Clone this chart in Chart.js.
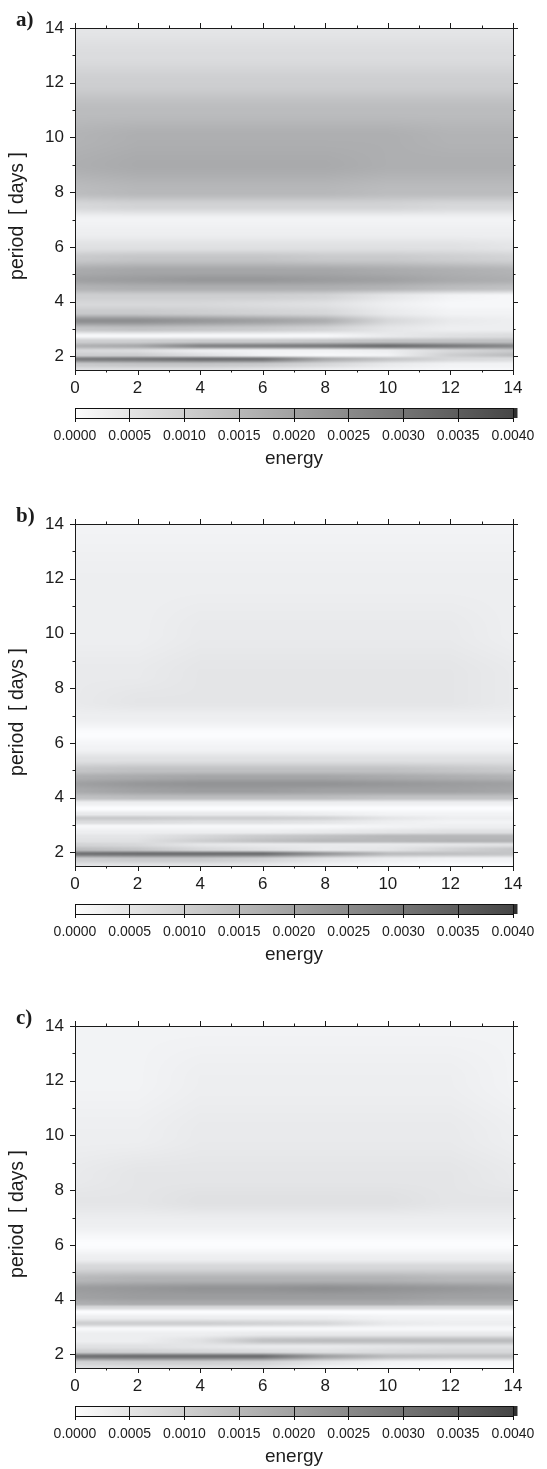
<!DOCTYPE html>
<html><head><meta charset="utf-8">
<script src="https://cdn.jsdelivr.net/npm/chart.js@4.4.1/dist/chart.umd.min.js"></script>
<style>
html,body{margin:0;padding:0;background:#fff;width:547px;height:1469px;overflow:hidden;position:relative}
canvas{position:absolute;left:0}
</style></head><body>
<canvas id="hmA" width="547" height="410" style="top:0px"></canvas>
<canvas id="cbA" width="547" height="75" style="top:400px"></canvas>
<canvas id="hmB" width="547" height="410" style="top:496px"></canvas>
<canvas id="cbB" width="547" height="75" style="top:896px"></canvas>
<canvas id="hmC" width="547" height="410" style="top:998px"></canvas>
<canvas id="cbC" width="547" height="75" style="top:1398px"></canvas>
<script>
// ---------------- data (energy values in units of 1e-4) ----------------
const ENERGY_UNIT = 1e-4;
const xColumns = [0, 2, 4, 6, 8, 10, 12, 14];

const periodsA = [1.5,1.7,1.9,2.05,2.2,2.38,2.55,2.75,3.0,3.3,3.6,3.9,4.2,4.5,4.8,5.1,5.6,6.0,6.5,7.0,7.5,8,9,10,11,12,13,14];
const energyA = [
  [6,6,6,5,3,2,1,1],
  [11,12,12,11,8,4,2,2],
  [28,29,31,30,18,12,8,7],
  [10,10,6,2,1,2,10,14],
  [8,7,3,2,2,3,8,11],
  [16,18,26,27,28,31,28,25],
  [10,10,11,11,12,13,13,13],
  [1,1,1,1,1,4,6,7],
  [12,13,12,11,9,5,3,3],
  [24,24,22,20,17,8,4,3],
  [11,11,10,9,8,4,2,2],
  [8,8,8,7,6,3,1,1],
  [10,10,10,10,9,5,2,1],
  [16,17,17,17,17,16,14,13],
  [20,21,22,22,21,20,18,17],
  [18,19,19,19,19,18,17,16],
  [11,12,12,12,11,11,10,9],
  [6,6,6,6,6,6,6,5],
  [3,3,3,3,3,3,3,3],
  [2,2,2,2,2,2,2,2],
  [8,9,9,9,9,9,8,8],
  [14,15,15,15,15,14,14,14],
  [17,18,18,18,18,17,17,17],
  [16,17,17,17,17,17,16,16],
  [14,14,14,14,14,14,14,14],
  [10,10,10,10,10,10,10,10],
  [7,7,7,7,7,7,7,7],
  [5,5,5,5,5,5,5,5]
];

const periodsB = [1.5,1.75,1.95,2.1,2.28,2.42,2.58,2.75,2.95,3.1,3.25,3.4,3.6,3.8,4.0,4.25,4.5,4.75,5.0,5.4,5.8,6.3,6.9,7.5,8.5,10,12,14];
const energyB = [
  [5,5,5,4,2,1,0,0],
  [10,11,11,9,5,3,2,2],
  [30,31,31,31,22,14,13,12],
  [14,12,8,6,4,5,9,12],
  [9,8,5,4,4,4,5,6],
  [6,6,10,13,15,15,16,16],
  [5,5,8,11,13,15,15,15],
  [3,3,3,3,4,5,6,6],
  [1,1,1,1,1,2,3,3],
  [7,7,6,6,5,3,2,2],
  [11,11,10,10,9,5,3,3],
  [4,4,4,4,3,2,2,2],
  [0,0,0,0,0,0,0,0],
  [3,3,3,3,3,3,3,3],
  [13,14,14,14,14,13,13,13],
  [18,20,21,21,20,20,20,19],
  [20,22,23,23,23,22,21,20],
  [17,18,19,19,19,18,17,16],
  [12,13,13,13,13,13,12,11],
  [6,6,6,6,6,6,6,6],
  [2,2,2,2,2,2,2,2],
  [0,0,0,0,0,0,0,0],
  [3,3,3,3,3,3,3,3],
  [4,5,5,5,5,5,5,4],
  [4,4,5,5,5,5,5,4],
  [3,3,4,4,4,4,4,3],
  [3,3,3,3,3,3,3,3],
  [2,2,2,2,2,2,2,2]
];

const periodsC = [1.5,1.7,1.93,2.1,2.28,2.5,2.75,2.93,3.13,3.35,3.55,3.72,3.85,4.1,4.4,4.75,5.2,5.5,6.0,6.8,7.6,8.5,10,12,14];
const energyC = [
  [6,6,6,6,2,1,0,0],
  [9,10,10,9,5,2,1,1],
  [30,31,31,31,20,14,13,13],
  [10,9,8,7,6,7,8,8],
  [6,6,5,4,4,5,6,6],
  [3,3,6,13,14,14,14,14],
  [3,3,3,4,4,4,4,4],
  [1,1,1,1,1,1,1,1],
  [10,10,10,9,8,4,3,3],
  [3,3,3,3,3,2,2,2],
  [0,0,0,0,0,0,0,0],
  [8,8,8,8,8,8,8,8],
  [17,18,18,18,18,18,17,17],
  [20,21,21,21,21,21,20,20],
  [21,22,23,23,24,23,22,21],
  [15,16,16,16,16,16,15,15],
  [8,8,8,8,8,8,8,8],
  [3,3,3,3,3,3,3,3],
  [0,0,0,0,0,0,0,0],
  [3,3,3,3,3,3,3,3],
  [5,5,6,6,6,6,5,5],
  [4,5,5,5,5,5,5,4],
  [3,3,4,4,4,4,4,3],
  [2,2,3,3,3,3,3,2],
  [2,2,2,2,2,2,2,2]
];

const xTickLabels = [0,2,4,6,8,10,12,14];
const xMinorTicks = [1,3,5,7,9,11,13];
const yTickLabels = [2,4,6,8,10,12,14];
const yMinorTicks = [3,5,7,9,11,13];
const cbTickLabels = [0,0.0005,0.0010,0.0015,0.0020,0.0025,0.0030,0.0035,0.0040];
const panelLetters = ['a)','b)','c)'];
const yTitle = 'period  [ days ]';
const cbTitle = 'energy';

// ---------------- helpers ----------------
const TEXT = '#1c1c1c';
const FONT = "'Liberation Sans', Arial, sans-serif";
const E_MAX = 0.004;
function grayFor(e){ const t = Math.max(0, Math.min(1.12, e / E_MAX)); return 252 - 182 * t; }
function locate(arr, v){
  const n = arr.length;
  if (v <= arr[0]) return [0,0,0];
  if (v >= arr[n-1]) return [n-1,n-1,0];
  let i = 0; while (arr[i+1] < v) i++;
  return [i, i+1, (v - arr[i]) / (arr[i+1] - arr[i])];
}
const smooth = t => t * t * (3 - 2 * t);

const heatmapPlugin = {
  id: 'heatmap',
  beforeDatasetsDraw(chart, args, opts){
    const {ctx, chartArea: a, scales: {x, y}} = chart;
    const periods = opts.periods, rows = opts.rows;
    const L = Math.round(a.left), T = Math.round(a.top);
    const W = Math.round(a.right) - L, H = Math.round(a.bottom) - T;
    const off = document.createElement('canvas'); off.width = W; off.height = H;
    const octx = off.getContext('2d'); const img = octx.createImageData(W, H);
    const colLoc = [];
    for (let c = 0; c < W; c++) colLoc.push(locate(xColumns, x.getValueForPixel(L + c + 0.5)));
    for (let r = 0; r < H; r++){
      const [i0, i1, t0] = locate(periods, y.getValueForPixel(T + r + 0.5));
      const ty = smooth(t0);
      for (let c = 0; c < W; c++){
        const [j0, j1, tx] = colLoc[c];
        const v0 = rows[i0][j0] * (1 - tx) + rows[i0][j1] * tx;
        const v1 = rows[i1][j0] * (1 - tx) + rows[i1][j1] * tx;
        const e = (v0 * (1 - ty) + v1 * ty) * ENERGY_UNIT;
        const g = grayFor(e);
        const k = (r * W + c) * 4;
        img.data[k] = g - 1; img.data[k+1] = g; img.data[k+2] = g + 2; img.data[k+3] = 255;
      }
    }
    octx.putImageData(img, 0, 0);
    ctx.drawImage(off, L, T);
  }
};

const framePlugin = {
  id: 'frame',
  afterDraw(chart, args, opts){
    const {ctx, chartArea: a, scales: {x, y}} = chart;
    ctx.save();
    ctx.strokeStyle = '#1a1a1a'; ctx.lineWidth = 1;
    ctx.strokeRect(Math.round(a.left) + 0.5, Math.round(a.top) + 0.5, Math.round(a.right) - Math.round(a.left), Math.round(a.bottom) - Math.round(a.top));
    const major = 5, minor = 2.5;
    ctx.beginPath();
    const tickX = (v, len) => {
      const px = Math.round(x.getPixelForValue(v)) + 0.5;
      ctx.moveTo(px, a.bottom); ctx.lineTo(px, a.bottom + len);
      ctx.moveTo(px, a.top); ctx.lineTo(px, a.top - len);
    };
    const tickY = (v, len) => {
      const py = Math.round(y.getPixelForValue(v)) + 0.5;
      ctx.moveTo(a.left, py); ctx.lineTo(a.left - len, py);
      ctx.moveTo(a.right, py); ctx.lineTo(a.right + len, py);
    };
    xTickLabels.forEach(v => tickX(v, major));
    xMinorTicks.forEach(v => tickX(v, minor));
    yTickLabels.forEach(v => tickY(v, major));
    yMinorTicks.forEach(v => tickY(v, minor));
    ctx.stroke();
    // y axis title
    ctx.fillStyle = TEXT;
    ctx.translate(18, (a.top + a.bottom) / 2 + 17);
    ctx.rotate(-Math.PI / 2);
    ctx.font = '19.5px ' + FONT;
    ctx.textAlign = 'center'; ctx.textBaseline = 'middle';
    ctx.fillText(yTitle, 0, 0);
    ctx.setTransform(1,0,0,1,0,0);
    // panel letter
    ctx.font = "bold 21px 'Liberation Serif', 'Times New Roman', serif";
    ctx.textAlign = 'left'; ctx.textBaseline = 'alphabetic';
    ctx.fillText(opts.letter, 16, 26);
    ctx.restore();
  }
};

const colorbarPlugin = {
  id: 'colorbar',
  beforeDraw(chart){
    const {ctx, chartArea: a, scales: {x}} = chart;
    const x0 = x.getPixelForValue(cbTickLabels[0]);
    const x1 = x.getPixelForValue(cbTickLabels[cbTickLabels.length - 1]);
    const grad = ctx.createLinearGradient(x0, 0, x1, 0);
    cbTickLabels.forEach(v => {
      const g = Math.round(grayFor(v));
      grad.addColorStop((x.getPixelForValue(v) - x0) / (x1 - x0), `rgb(${g},${g},${g})`);
    });
    ctx.save();
    ctx.fillStyle = grad;
    ctx.fillRect(x0, a.top, x1 - x0, a.bottom - a.top);
    const over = Math.round(grayFor(E_MAX * 1.12));
    ctx.fillStyle = `rgb(${over},${over},${over})`;
    ctx.fillRect(x1, a.top, 4.5, a.bottom - a.top);
    ctx.restore();
  },
  afterDraw(chart){
    const {ctx, chartArea: a} = chart;
    ctx.save();
    ctx.strokeStyle = '#111'; ctx.lineWidth = 1;
    ctx.beginPath();
    ctx.moveTo(a.left, Math.round(a.top) + 0.5); ctx.lineTo(a.right, Math.round(a.top) + 0.5);
    ctx.stroke();
    ctx.restore();
  }
};

function makeHeatmap(id, periods, rows, letter){
  return new Chart(document.getElementById(id), {
    type: 'scatter',
    data: { datasets: [{ data: [] }] },
    options: {
      responsive: false, animation: false, events: [],
      layout: { padding: { top: 28, right: 34, left: 0, bottom: 0 } },
      plugins: { legend: { display: false }, tooltip: { enabled: false },
                 heatmap: { periods, rows }, frame: { letter } },
      scales: {
        x: {
          type: 'linear', min: 0, max: 14, position: 'bottom',
          afterBuildTicks: s => { s.ticks = xTickLabels.map(v => ({ value: v })); },
          afterFit: s => { s.height = 40; },
          grid: { display: false, drawTicks: false }, border: { display: false },
          ticks: { font: { family: FONT, size: 17 }, color: TEXT, padding: 8, maxRotation: 0, autoSkip: false }
        },
        y: {
          type: 'linear', min: 1.5, max: 14, position: 'left',
          afterBuildTicks: s => { s.ticks = yTickLabels.map(v => ({ value: v })); },
          afterFit: s => { s.width = 75; },
          grid: { display: false, drawTicks: false }, border: { display: false },
          ticks: { font: { family: FONT, size: 17 }, color: TEXT, padding: 11, autoSkip: false }
        }
      }
    },
    plugins: [heatmapPlugin, framePlugin]
  });
}

function makeColorbar(id){
  return new Chart(document.getElementById(id), {
    type: 'scatter',
    data: { datasets: [{ data: [] }] },
    options: {
      responsive: false, animation: false, events: [],
      layout: { padding: { top: 8, right: 34, left: 75, bottom: 0 } },
      plugins: { legend: { display: false }, tooltip: { enabled: false } },
      scales: {
        x: {
          type: 'linear', min: cbTickLabels[0], max: cbTickLabels[cbTickLabels.length - 1], position: 'bottom',
          afterBuildTicks: s => { s.ticks = cbTickLabels.map(v => ({ value: v })); },
          afterFit: s => { s.height = 57; },
          grid: { display: true, drawOnChartArea: true, drawTicks: true, tickLength: 4, color: '#111', lineWidth: 1 },
          border: { display: true, color: '#111', width: 1 },
          ticks: { callback: v => Number(v).toFixed(4), font: { family: FONT, size: 14 }, color: TEXT, padding: 6, maxRotation: 0, autoSkip: false },
          title: { display: true, text: cbTitle, font: { family: FONT, size: 19 }, color: TEXT, padding: { top: 0, bottom: 5 } }
        },
        y: { display: false, min: 0, max: 1 }
      }
    },
    plugins: [colorbarPlugin]
  });
}

makeHeatmap('hmA', periodsA, energyA, panelLetters[0]);
makeColorbar('cbA');
makeHeatmap('hmB', periodsB, energyB, panelLetters[1]);
makeColorbar('cbB');
makeHeatmap('hmC', periodsC, energyC, panelLetters[2]);
makeColorbar('cbC');
</script>
</body></html>
